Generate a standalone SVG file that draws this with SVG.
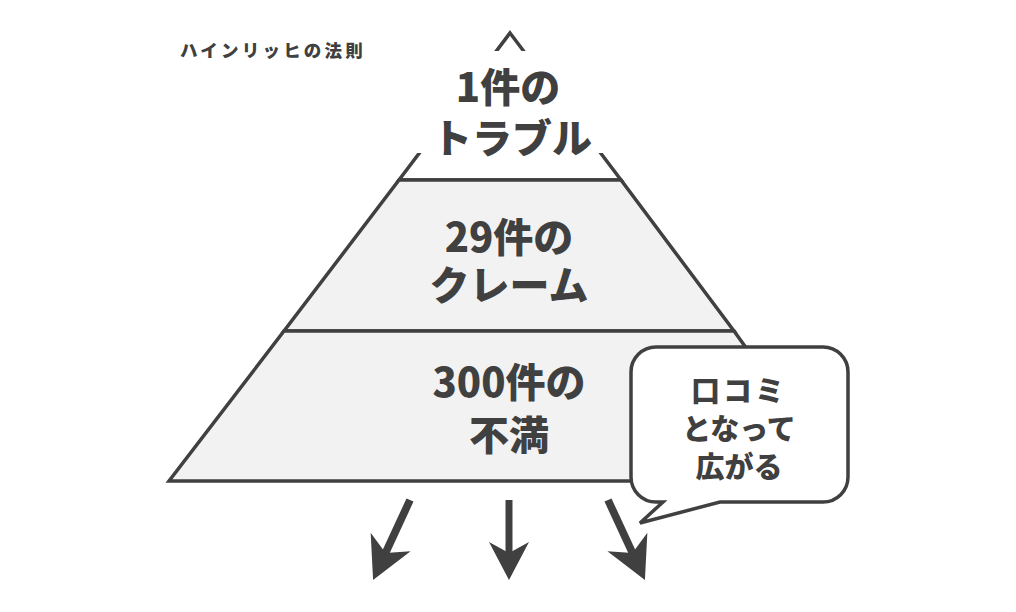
<svg xmlns="http://www.w3.org/2000/svg" width="1016" height="612" viewBox="0 0 1016 612">
<style>
.band{stroke:#404040;stroke-width:3.5;stroke-linejoin:miter}
.t{font-family:"Noto Sans CJK JP","Noto Sans",sans-serif;font-weight:900;fill:#404040;text-anchor:middle}
.big{font-size:40px}
.mid{font-size:29px}
.shaft{stroke:#404040;stroke-width:7;fill:none}
.head{fill:#404040}
</style>
<defs>
<g id="arrow">
<line class="shaft" x1="0" y1="0" x2="0" y2="58"/>
<polygon class="head" points="0,80 -20,42 0,53 20,42"/>
</g>
</defs>
<rect width="1016" height="612" fill="#ffffff"/>
<text class="t" x="180" y="57" style="font-size:17.5px;letter-spacing:3.2px;text-anchor:start">ハインリッヒの法則</text>
<g id="pyramid">
<g id="top">
<polygon class="band" points="510,33 621,180 399,180" fill="#ffffff" stroke-width="3"/>
</g>
<g id="middle">
<polygon class="band" points="399,180 621,180 734,331 284,331" fill="#f2f2f2"/>
</g>
<g id="bottom">
<polygon class="band" points="284,331 734,331 842,481 169,481" fill="#f2f2f2"/>
</g>
<rect x="395" y="51" width="230" height="102" fill="#ffffff"/>
<text class="t big" x="508" y="102">1件の</text>
<text class="t big" x="512" y="153">トラブル</text>
<text class="t big" x="509" y="252">29件の</text>
<text class="t big" x="509" y="300">クレーム</text>
<text class="t big" x="509" y="397">300件の</text>
<text class="t big" x="509" y="450">不満</text>
</g>
<g id="bubble">
<path d="M656,347 H823 A25,25 0 0 1 848,372 V477 A25,25 0 0 1 823,502 H720 L640,523 L663,502 H656 A25,25 0 0 1 631,477 V372 A25,25 0 0 1 656,347 Z" fill="#ffffff" stroke="#404040" stroke-width="3.5" stroke-linejoin="miter"/>
<text class="t mid" x="739" y="402" style="letter-spacing:3px">口コミ</text>
<text class="t mid" x="739" y="440">となって</text>
<text class="t mid" x="739" y="478">広がる</text>
</g>
<g id="connectors">
<use href="#arrow" transform="translate(410,500) rotate(24.8) scale(1.1)"/>
<use href="#arrow" transform="translate(509,500)"/>
<use href="#arrow" transform="translate(608,500) rotate(-24.8) scale(1.1)"/>
</g>
</svg>
